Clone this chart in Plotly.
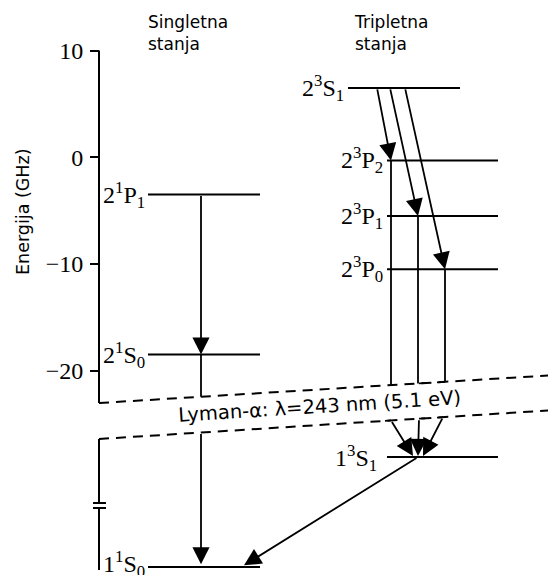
import plotly.graph_objects as go

# ---------------- data ----------------
ytick_vals = [10, 0, -10, -20]
ytick_text = ["10", "0", "\u221210", "\u221220"]

singlet_labels = ["2<sup>1</sup>P<sub>1</sub>", "2<sup>1</sup>S<sub>0</sub>"]
singlet_energy_ghz = [-3.5, -18.5]

triplet_labels = ["2<sup>3</sup>S<sub>1</sub>", "2<sup>3</sup>P<sub>2</sub>",
                  "2<sup>3</sup>P<sub>1</sub>", "2<sup>3</sup>P<sub>0</sub>"]
triplet_energy_ghz = [6.5, -0.3, -5.5, -10.5]

# ground states sit below the axis break (schematic positions on the plot scale)
ground_labels = ["1<sup>3</sup>S<sub>1</sub>", "1<sup>1</sup>S<sub>0</sub>"]
ground_plot_pos = [-28.1, -38.4]

lyman_text = "Lyman-\u03b1: \u03bb=243 nm (5.1 eV)"

# ---------------- layout helpers ----------------
W, H = 556, 575          # window size
OFF = 8                  # page body margin
FW, FH = W - OFF, H - OFF  # figure size
L = 80                   # left edge of plot area, in window pixels
PX0, PXPERGHZ = 157.26, 10.668


def gy(px):
    """window pixel row -> value on the energy axis (for decorations only)"""
    return (PX0 - px) / PXPERGHZ


def paper_x(px):
    return (px - L) / (W - L)


def paper_y(py):
    return 1 - (py - OFF) / FH


AX = 99  # x of the energy axis
BRK_TOP = ((AX, gy(403)), (W, gy(375)))
BRK_BOT = ((AX, gy(439)), (W, gy(410)))


def on_line(seg, x):
    (x0, y0), (x1, y1) = seg
    return y0 + (y1 - y0) * (x - x0) / (x1 - x0)


K = "black"
shapes = []


def line(x0, y0, x1, y1, w=2, dash=None):
    d = dict(type="line", x0=x0, y0=y0, x1=x1, y1=y1, xref="x", yref="y",
             line=dict(color=K, width=w))
    if dash:
        d["line"]["dash"] = dash
    shapes.append(d)


annotations = []


def arrow(xt, yt, xh, yh, w=1.8):
    annotations.append(dict(x=xh, y=yh, ax=xt, ay=yt, xref="x", yref="y",
                            axref="x", ayref="y", text="", showarrow=True,
                            arrowhead=2, arrowsize=1.9, arrowwidth=w,
                            arrowcolor=K, standoff=0))


LABEL_FONT = dict(family="Liberation Serif, Times New Roman, serif", size=24, color=K)
SANS = dict(family="DejaVu Sans, Verdana, sans-serif", size=17, color=K)


def label(text, xr, y):
    annotations.append(dict(x=xr, y=y, xref="x", yref="y", text=text,
                            showarrow=False, xanchor="right", yanchor="middle",
                            font=LABEL_FONT))


# ---------------- axis (broken) ----------------
line(AX, 10, AX, BRK_TOP[0][1])
line(AX, BRK_BOT[0][1], AX, gy(503))
line(AX, gy(508), AX, gy(570))
line(93, gy(503), 106, gy(503))
line(93, gy(508), 106, gy(508))
# break lines
line(*BRK_TOP[0], *BRK_TOP[1], w=2, dash="10px,7px")
line(*BRK_BOT[0], *BRK_BOT[1], w=2, dash="10px,7px")

# ---------------- singlet levels ----------------
SX0, SX1 = 148, 260
for lab, e in zip(singlet_labels, singlet_energy_ghz):
    line(SX0, e, SX1, e)
    label(lab, SX0 - 1, e)

SAX = 201
arrow(SAX, singlet_energy_ghz[0], SAX, singlet_energy_ghz[1])
line(SAX, singlet_energy_ghz[1], SAX, on_line(BRK_TOP, SAX), w=1.8)
arrow(SAX, on_line(BRK_BOT, SAX), SAX, ground_plot_pos[1] + 0.25)

# ---------------- triplet levels ----------------
T0X = (348, 460)
TPX = (387, 498)
for i, (lab, e) in enumerate(zip(triplet_labels, triplet_energy_ghz)):
    x0, x1 = T0X if i == 0 else TPX
    line(x0, e, x1, e)
    label(lab, x0 - 2, e)

tail_x = [377, 390, 405]
tip_x = [391, 418, 445]
for tx, hx, e in zip(tail_x, tip_x, triplet_energy_ghz[1:]):
    arrow(tx, triplet_energy_ghz[0], hx, e)
    line(hx, e, hx, on_line(BRK_TOP, hx), w=1.8)
# small corners at the break
line(419, on_line(BRK_TOP, 419), 425, on_line(BRK_TOP, 425), w=1.8)
line(437, on_line(BRK_TOP, 437), 445, on_line(BRK_TOP, 445), w=1.8)

# ---------------- ground levels ----------------
line(TPX[0], ground_plot_pos[0], TPX[1], ground_plot_pos[0])
label(ground_labels[0], TPX[0] - 8, ground_plot_pos[0] - 0.1)
line(SX0, ground_plot_pos[1], SX1, ground_plot_pos[1])
label(ground_labels[1], SX0 - 1, ground_plot_pos[1] + 0.25)

low_tail = [391, 419, 443]
low_tip = [413, 418, 423]
for tx, hx in zip(low_tail, low_tip):
    arrow(tx, on_line(BRK_BOT, tx), hx, ground_plot_pos[0] + 0.1)
line(385, on_line(BRK_BOT, 385), 391, on_line(BRK_BOT, 391), w=1.8)
line(419, on_line(BRK_BOT, 419), 425, on_line(BRK_BOT, 425), w=1.8)
line(437, on_line(BRK_BOT, 437), 443, on_line(BRK_BOT, 443), w=1.8)

arrow(418, ground_plot_pos[0], 244, ground_plot_pos[1] + 0.15)

# ---------------- texts ----------------
annotations.append(dict(x=319, y=gy(406), xref="x", yref="y", text=lyman_text,
                        showarrow=False, textangle=-3.6,
                        font=dict(family="DejaVu Sans, Verdana, sans-serif",
                                  size=19.5, color=K),
                        bgcolor="white", borderpad=0))
annotations.append(dict(x=paper_x(146), y=paper_y(10), xref="paper",
                        yref="paper", text="Singletna<br>stanja", showarrow=False,
                        xanchor="left", yanchor="top", align="left", font=SANS))
annotations.append(dict(x=paper_x(352), y=paper_y(10), xref="paper",
                        yref="paper", text="Tripletna<br>stanja", showarrow=False,
                        xanchor="left", yanchor="top", align="left", font=SANS))
annotations.append(dict(x=paper_x(23), y=paper_y(212), xref="paper",
                        yref="paper", text="Energija (GHz)", showarrow=False,
                        textangle=-90, xanchor="center", yanchor="middle",
                        font=dict(family="DejaVu Sans, Verdana, sans-serif",
                                  size=17.5, color=K)))

fig = go.Figure()
fig.add_trace(go.Scatter(x=[None], y=[None], showlegend=False, hoverinfo="skip"))
fig.update_layout(
    width=FW, height=FH,
    margin=dict(l=L - OFF, r=0, t=0, b=0, autoexpand=False),
    paper_bgcolor="white", plot_bgcolor="white",
    showlegend=False,
    shapes=shapes, annotations=annotations,
    xaxis=dict(range=[L, W], visible=False, fixedrange=True, automargin=False),
    yaxis=dict(range=[gy(H), gy(OFF)], anchor="free", position=paper_x(AX),
               tickvals=ytick_vals, ticktext=ytick_text, ticks="outside",
               ticklen=9, tickwidth=2, tickcolor=K, showgrid=False,
               zeroline=False, showline=False, tickfont=LABEL_FONT,
               ticklabelstandoff=2, automargin=False, fixedrange=True),
)
fig.write_html("out.html")
